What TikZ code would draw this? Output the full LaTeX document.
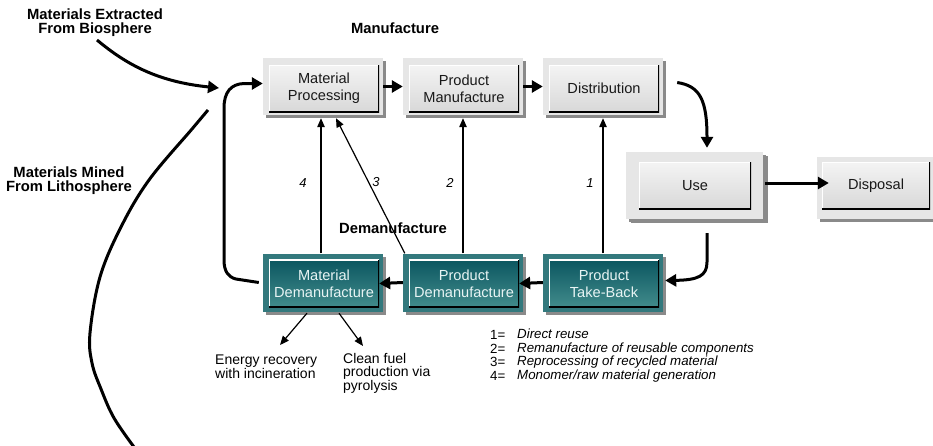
\documentclass[tikz,border=0pt]{standalone}
\usepackage{fontspec}
\setmainfont{Liberation Sans}
\usetikzlibrary{arrows.meta,shadows,calc}

\definecolor{framegray}{HTML}{E6E6E6}
\definecolor{innertop}{HTML}{F4F4F4}
\definecolor{innerbot}{HTML}{D8D8D8}
\definecolor{shadowgray}{HTML}{8A8A8A}
\definecolor{tealtop}{HTML}{0B5660}
\definecolor{tealbot}{HTML}{428C8C}
\definecolor{tealframe}{HTML}{33797D}
\definecolor{tealtext}{HTML}{E8F4F4}

\tikzset{
  boxtext/.style={font=\fontsize{14.6}{17}\selectfont, align=center},
  boxshadow/.style={drop shadow={shadow xshift=3pt, shadow yshift=-3pt, fill=shadowgray, opacity=1}},
  bevel/.style={inner sep=0pt, path picture={
      \draw[white, line width=2.6pt] (path picture bounding box.south west)
        -- (path picture bounding box.north west) -- (path picture bounding box.north east);
      \draw[black, line width=2.6pt] (path picture bounding box.south west)
        -- (path picture bounding box.south east) -- (path picture bounding box.north east);}},
  gframe/.style={fill=framegray, inner sep=0pt, boxshadow},
  ginner/.style={bevel, boxtext, top color=innertop, bottom color=innerbot, text=black!90},
  tframe/.style={fill=tealframe, inner sep=0pt, boxshadow},
  tinner/.style={bevel, boxtext, top color=tealtop, bottom color=tealbot, text=tealtext},
  bigarrow/.style={line width=3pt, -{Triangle[length=11pt,width=12pt]}},
  thickline/.style={line width=3pt},
  thinarrow/.style={line width=1.2pt, -{Triangle[length=9pt,width=7.5pt]}},
  heading/.style={font=\fontsize{14.8}{14}\selectfont\bfseries, align=center},
  note/.style={font=\fontsize{14}{13.5}\selectfont, align=left},
  pathno/.style={font=\fontsize{13}{14}\selectfont\itshape},
  legend/.style={font=\fontsize{13.3}{13.7}\selectfont, align=left},
}

\begin{document}
\begin{tikzpicture}[x=1pt,y=-1pt]
  % page
  \fill[white] (0,0) rectangle (933,445);
  \useasboundingbox (0,0) rectangle (933,445);

  % --- manufacture row ---
  \node[gframe, minimum width=120, minimum height=57] (mpF) at (323,86.5) {};
  \node[ginner, minimum width=110, minimum height=47] (mp) at (324,88.5) {Material\\Processing};
  \node[gframe, minimum width=120, minimum height=57] (pmF) at (463,86.5) {};
  \node[ginner, minimum width=110, minimum height=47] (pm) at (464,88.5) {Product\\Manufacture};
  \node[gframe, minimum width=120, minimum height=57] (diF) at (603,86.5) {};
  \node[ginner, minimum width=110, minimum height=47] (di) at (604,88.5) {Distribution};

  % --- use and disposal ---
  \node[gframe, minimum width=137, minimum height=67,
        drop shadow={shadow xshift=5pt, shadow yshift=-4pt, fill=shadowgray, opacity=1}] (useF) at (694.5,185.5) {};
  \node[ginner, minimum width=112, minimum height=47] (use) at (695,185.5) {Use};
  \node[gframe, minimum width=123, minimum height=62] (dispF) at (878.5,188) {};
  \node[ginner, minimum width=108, minimum height=47] (disp) at (876,185.5) {Disposal};

  % --- demanufacture row ---
  \node[tframe, minimum width=120, minimum height=58] (mdF) at (323,282.5) {};
  \node[tinner, minimum width=110, minimum height=48] (md) at (324,283.5) {Material\\Demanufacture};
  \node[tframe, minimum width=120, minimum height=58] (pdF) at (463,282.5) {};
  \node[tinner, minimum width=110, minimum height=48] (pd) at (464,283.5) {Product\\Demanufacture};
  \node[tframe, minimum width=120, minimum height=58] (ptF) at (603,282.5) {};
  \node[tinner, minimum width=110, minimum height=48] (pt) at (604,283.5) {Product\\Take-Back};

  % --- headings and notes ---
  \node[heading] (bioT) at (95,23) {Materials Extracted\\From Biosphere};
  \node[heading] (manT) at (395,28) {Manufacture};
  \node[heading] (litT) at (69,181) {Materials Mined\\From Lithosphere};
  \node[heading] (demT) at (393,228) {Demanufacture};
  \node[note, anchor=west, inner sep=0pt] (enT) at (215,366.5) {Energy recovery\\with incineration};
  \node[note, anchor=west, inner sep=0pt] (cfT) at (343,373) {Clean fuel\\production via\\pyrolysis};

  % legend of the recovery paths
  \node[legend, anchor=west, inner sep=0pt] (legN) at (490,355.5) {1=\\2=\\3=\\4=};
  \node[legend, anchor=west, inner sep=0pt, font=\fontsize{13.3}{13.7}\selectfont\itshape] (legT) at (517,355.5)
    {Direct reuse\\Remanufacture of reusable components\\Reprocessing of recycled material\\Monomer/raw material generation};

  % --- forward flow ---
  \draw[bigarrow] (mpF.east) -- (pmF.west);
  \draw[bigarrow] (pmF.east) -- (diF.west);
  \draw[bigarrow] ($(diF.east)+(14,-4)$) .. controls (700,86) and (707,100) .. ($(useF.north)+(12.5,-4)$);
  \draw[bigarrow] ($(useF.east)+(2,-2.5)$) -- ($(useF.east -| disp.west)+(7,-2.5)$);

  % --- take-back flow ---
  \draw[bigarrow] ($(useF.south)+(12.5,14)$) -- (707,262)
    .. controls (707,276) and (698,280) .. ($(ptF.east)+(2,-2)$);
  \draw[bigarrow] (ptF.west) -- (pd.east);
  \draw[bigarrow] (pdF.west) -- (md.east);
  \draw[bigarrow] ($(mdF.west)+(-4,0)$) -- (236,279)
    .. controls (228,277) and (224,271) .. (224,260) -- (224,108)
    .. controls (224,92) and (231,84) .. (244,83.5) -- ($(mpF.west)+(0,-3)$);

  % --- raw material inputs ---
  \coordinate (bioS) at (97,40);
  \coordinate (bioE) at (219,88);
  \draw[bigarrow] (bioS) .. controls (128,66) and (160,82) .. (bioE);
  \draw[thickline] plot[smooth, tension=0.6] coordinates {(208,110) (192,129) (149,180) (121,227) (100,277) (90,333) (92,363) (101,389) (114,418) (134,447)};

  % --- recovery paths ---
  \draw[thinarrow] ($(mdF.north)+(-2,0)$) -- ($(mpF.south)+(-2,3)$);
  \draw[thinarrow] ($(pdF.north west)+(2,0)$) -- ($(mpF.south)+(13,3)$);
  \draw[thinarrow] (pdF.north) -- ($(pmF.south)+(0,3)$);
  \draw[thinarrow] (ptF.north) -- ($(diF.south)+(0,3)$);
  \node[pathno] (p4) at (303,183) {4};
  \node[pathno] (p3) at (376,182) {3};
  \node[pathno] (p2) at (450,183) {2};
  \node[pathno] (p1) at (590,183) {1};

  % --- end-of-life outputs ---
  \coordinate (enTip) at (280,345);
  \coordinate (cfTip) at (363,346);
  \draw[thinarrow] ($(mdF.south)+(-16,1.5)$) -- (enTip);
  \draw[thinarrow] ($(mdF.south)+(16,1.5)$) -- (cfTip);
\end{tikzpicture}
\end{document}
